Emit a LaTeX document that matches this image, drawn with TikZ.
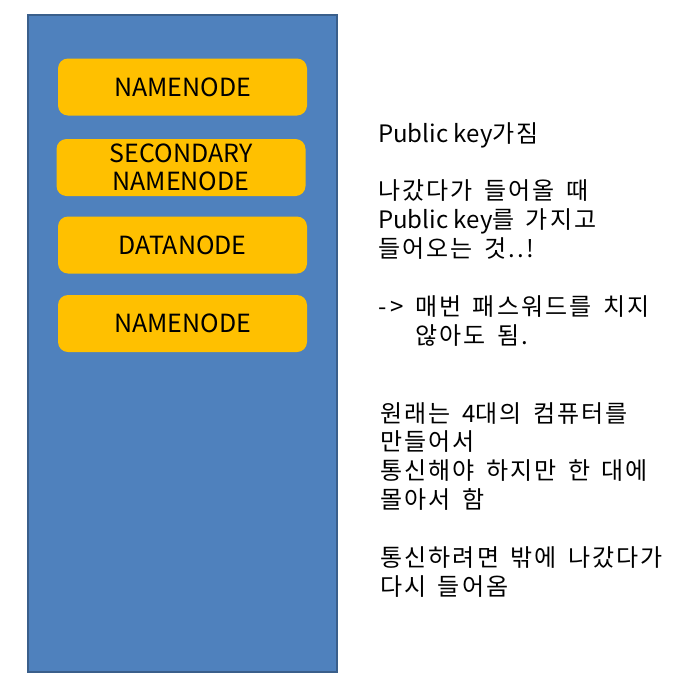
\documentclass[tikz,border=0pt]{standalone}
\usepackage{fontspec}
\newfontfamily\kr{Noto Sans CJK KR}
\newfontfamily\krw[LetterSpace=9,WordSpace=1.5]{Noto Sans CJK KR}
\newcommand{\lat}[1]{{\kr #1}}
\tikzset{
  hostbox/.style={draw=hostedge, fill=hostblue, line width=1.6pt},
  ybox/.style={fill=nodeyellow, rounded corners=10pt, minimum width=249pt, minimum height=57pt, inner sep=0pt, align=center, font=\kr\fontsize{25}{28}\selectfont},
  txt/.style={inner sep=0pt, anchor=base west, font=\krw\fontsize{24}{28.9}\selectfont}
}
\definecolor{hostblue}{HTML}{4F81BD}
\definecolor{hostedge}{HTML}{3A5F8B}
\definecolor{nodeyellow}{HTML}{FFC000}
\begin{document}
\begin{tikzpicture}[x=1pt,y=-1pt]
\useasboundingbox (0,0) rectangle (688,694);
\node[hostbox, minimum width=309pt, minimum height=657pt, inner sep=0pt] (host) at (182.5,343.5) {};
\node[ybox] (nn1) at (182.5,87) {NAMENODE};
\node[ybox] (snn) at (181,167.5) {SECONDARY\\NAMENODE};
\node[ybox] (dn) at (182.5,245) {DATANODE};
\node[ybox] (nn2) at (182.5,323.5) {NAMENODE};
\node[txt] (note1) at (378,142) {\parbox[t]{305pt}{\raggedright
\lat{Public key}가짐\\
\mbox{}\\
나갔다가 들어올 때\\
\lat{Public key}를 가지고\\
들어오는 것..!\\
\mbox{}\\
\makebox[37pt][l]{\lat{-\,>}}매번 패스워드를 치지\\
\hspace*{37pt}않아도 됨.}};
\node[txt] (note2) at (380,422) {\parbox[t]{305pt}{\raggedright
원래는 \lat{4}대의 컴퓨터를\\
만들어서\\
통신해야 하지만 한 대에\\
몰아서 함\\
\mbox{}\\
통신하려면 밖에 나갔다가\\
다시 들어옴}};
\end{tikzpicture}
\end{document}
